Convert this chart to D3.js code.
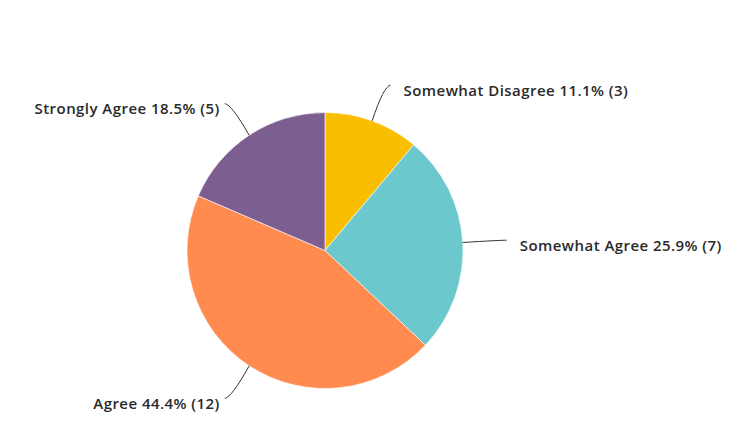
<!DOCTYPE html>
<html><head><meta charset="utf-8">
<script src="https://cdn.jsdelivr.net/npm/d3@7/dist/d3.min.js"></script>
<style>html,body{margin:0;padding:0;background:#fff;}svg{display:block;}</style>
</head><body>
<script>
const categories = ["Somewhat Disagree", "Somewhat Agree", "Agree", "Strongly Agree"];
const counts = [3, 7, 12, 5];
const colors = ["#F9BE00", "#6BC8CD", "#FF8B4F", "#7D5E90"];

const W = 752, H = 431;
const cx = 325, cy = 250.5, R = 138;
const total = d3.sum(counts);
const data = categories.map((c, i) => ({cat: c, n: counts[i], color: colors[i]}));

const svg = d3.select("body").append("svg").attr("width", W).attr("height", H);
const g = svg.append("g").attr("transform", `translate(${cx},${cy})`);

const pie = d3.pie().value(d => d.n).sort(null);
const arc = d3.arc().innerRadius(0).outerRadius(R);
const arcs = pie(data);

g.selectAll("path.slice").data(arcs).join("path")
  .attr("class", "slice")
  .attr("d", arc)
  .attr("fill", d => d.data.color)
  .attr("stroke", "#fff").attr("stroke-width", 0.6);

const pt = (a, r) => [r * Math.sin(a), -r * Math.cos(a)];

arcs.forEach(d => {
  const a = (d.startAngle + d.endAngle) / 2;
  const right = Math.sin(a) > 0;
  const s = pt(a, R);
  const e0 = pt(a, R + 39);
  const e = [e0[0] + (right ? 5 : -3), e0[1] + (Math.cos(a) > 0.3 ? 1 : 0)];
  const dir = right ? 1 : -1;
  const c = [e[0] - dir * 7, e[1] + (Math.abs(Math.cos(a)) > 0.3 ? (Math.cos(a) > 0 ? 1 : -1) : 0)];
  const path = d3.path();
  path.moveTo(s[0], s[1]);
  path.quadraticCurveTo(c[0], c[1], e[0], e[1]);
  g.append("path").attr("d", path.toString())
    .attr("fill", "none").attr("stroke", "#333").attr("stroke-width", 1);
  const pct = (d.data.n / total * 100).toFixed(1);
  g.append("text")
    .attr("x", e[0] + (right ? 13 : -5))
    .attr("y", e[1] + 5.5)
    .attr("dy", "0.35em")
    .attr("text-anchor", right ? "start" : "end")
    .attr("font-family", "'Open Sans', sans-serif")
    .attr("font-weight", 600)
    .attr("font-size", 15)
    .attr("letter-spacing", 0.45)
    .attr("fill", "#2a2a2a")
    .text(`${d.data.cat} ${pct}% (${d.data.n})`);
});
</script>
</body></html>
